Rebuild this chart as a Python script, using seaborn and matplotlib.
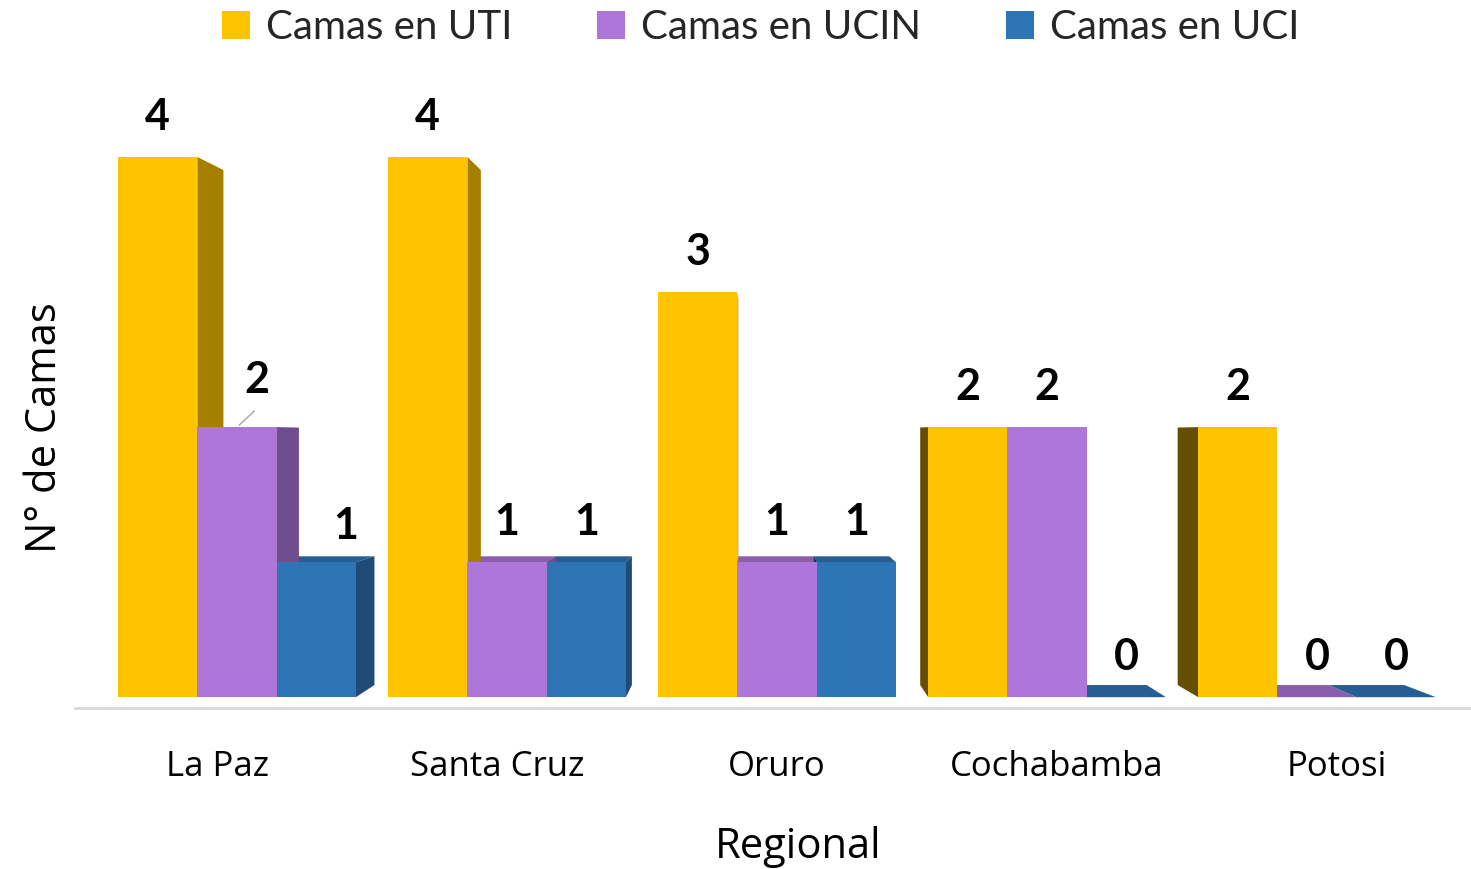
import matplotlib
matplotlib.use("Agg")
import matplotlib.pyplot as plt
import matplotlib.colors as mcolors
from matplotlib.patches import Polygon
import seaborn as sns
import pandas as pd

# data
regiones = ["La Paz", "Santa Cruz", "Oruro", "Cochabamba", "Potosi"]
series = ["Camas en UTI", "Camas en UCIN", "Camas en UCI"]
camas_uti = [4, 4, 3, 2, 2]
camas_ucin = [2, 1, 1, 2, 0]
camas_uci = [1, 1, 1, 0, 0]

palette = {
    "Camas en UTI": "#FFC400",
    "Camas en UCIN": "#AD76D8",
    "Camas en UCI": "#2E75B6",
}

rows = []
for serie, vals in zip(series, [camas_uti, camas_ucin, camas_uci]):
    for reg, v in zip(regiones, vals):
        rows.append({"Regional": reg, "Tipo": serie, "Camas": v})
df = pd.DataFrame(rows)

sns.set_style("white")
plt.rcParams["font.family"] = ["Open Sans", "DejaVu Sans"]

fig = plt.figure(figsize=(14.71, 8.69), dpi=100)
ax = fig.add_axes([75 / 1471, 1 - 708 / 869, 1 - 75 / 1471, (708 - 89.5) / 869])

sns.barplot(
    data=df, x="Regional", y="Camas", hue="Tipo", palette=palette,
    width=0.88, gap=0, saturation=1, linewidth=0, ax=ax,
)
ax.set_xlim(-0.6, 4.57)
ax.set_ylim(-0.08, 4.5)

# fake 3D depth, one-point perspective (vanishing point in data units)
van_x, van_y, depth = 1.92, 1.93, 0.0466


def back(px, py):
    return px + depth * (van_x - px), py + depth * (van_y - py)


def shade(color, f):
    r, g, b = mcolors.to_rgb(color)
    return (r * f, g * f, b * f)


# label nudges in points (Excel had two labels dragged by hand)
nudges = {(0, 1): (14, 34), (0, 2): (21, 26)}

for i, cont in enumerate(ax.containers):
    col = palette[series[i]]
    for j, bar in enumerate(cont):
        bar.set_zorder(3)
        x0 = bar.get_x()
        x1 = x0 + bar.get_width()
        h = bar.get_height()
        if van_y > h:
            pts = [(x0, h), (x1, h), back(x1, h), back(x0, h)]
            ax.add_patch(Polygon(pts, closed=True, fc=shade(col, 0.8), lw=0, zorder=1))
        if van_x > x1:
            pts = [(x1, 0), (x1, h), back(x1, h), back(x1, 0)]
            ax.add_patch(Polygon(pts, closed=True, fc=shade(col, 0.65), lw=0, zorder=2))
        if van_x < x0:
            pts = [(x0, 0), (x0, h), back(x0, h), back(x0, 0)]
            ax.add_patch(Polygon(pts, closed=True, fc=shade(col, 0.4), lw=0, zorder=2))

        dx, dy = nudges.get((j, i), (0, 29))
        ax.annotate(
            f"{h:.0f}", xy=(x0 + bar.get_width() / 2, h), xytext=(dx, dy),
            textcoords="offset points", ha="center", va="center",
            fontsize=31, fontweight="bold", family=["Lato", "DejaVu Sans"],
            color="black", zorder=5,
        )

# leader line for the moved La Paz UCIN label
ucin_bar = ax.containers[1][0]
ax.annotate(
    "", xy=(ucin_bar.get_x() + ucin_bar.get_width() / 2, ucin_bar.get_height()),
    xytext=(14, 13), textcoords="offset points",
    arrowprops=dict(arrowstyle="-", color="#A6A6A6", lw=1), zorder=5,
)

for s in ["top", "right", "left"]:
    ax.spines[s].set_visible(False)
ax.spines["bottom"].set_color("#D9D9D9")
ax.spines["bottom"].set_linewidth(2)
ax.set_yticks([])

# category labels sit on a slightly wider spacing than the bars (perspective)
ax.set_xticks([2 + (k - 2) * 280 / 270 for k in range(len(regiones))])
ax.set_xticklabels(regiones)
ax.tick_params(axis="x", length=0, pad=30, labelsize=25, labelcolor="black")

ax.set_xlabel("Regional", fontsize=30, color="black", va="center")
ax.xaxis.set_label_coords(0.518, -0.224)
ax.set_ylabel("N° de Camas", fontsize=30, color="black", va="center")
ax.yaxis.set_label_coords(-0.0215, 0.453)

handles, labels = ax.get_legend_handles_labels()
ax.get_legend().remove()
fig.legend(
    handles, labels, loc="center", bbox_to_anchor=(0.517, 0.968), ncol=3,
    frameon=False, prop={"family": ["Lato", "DejaVu Sans"], "size": 29},
    handlelength=0.7, handleheight=0.7, handletextpad=0.4, columnspacing=2.1,
)

fig.savefig("out.png", dpi=100)
